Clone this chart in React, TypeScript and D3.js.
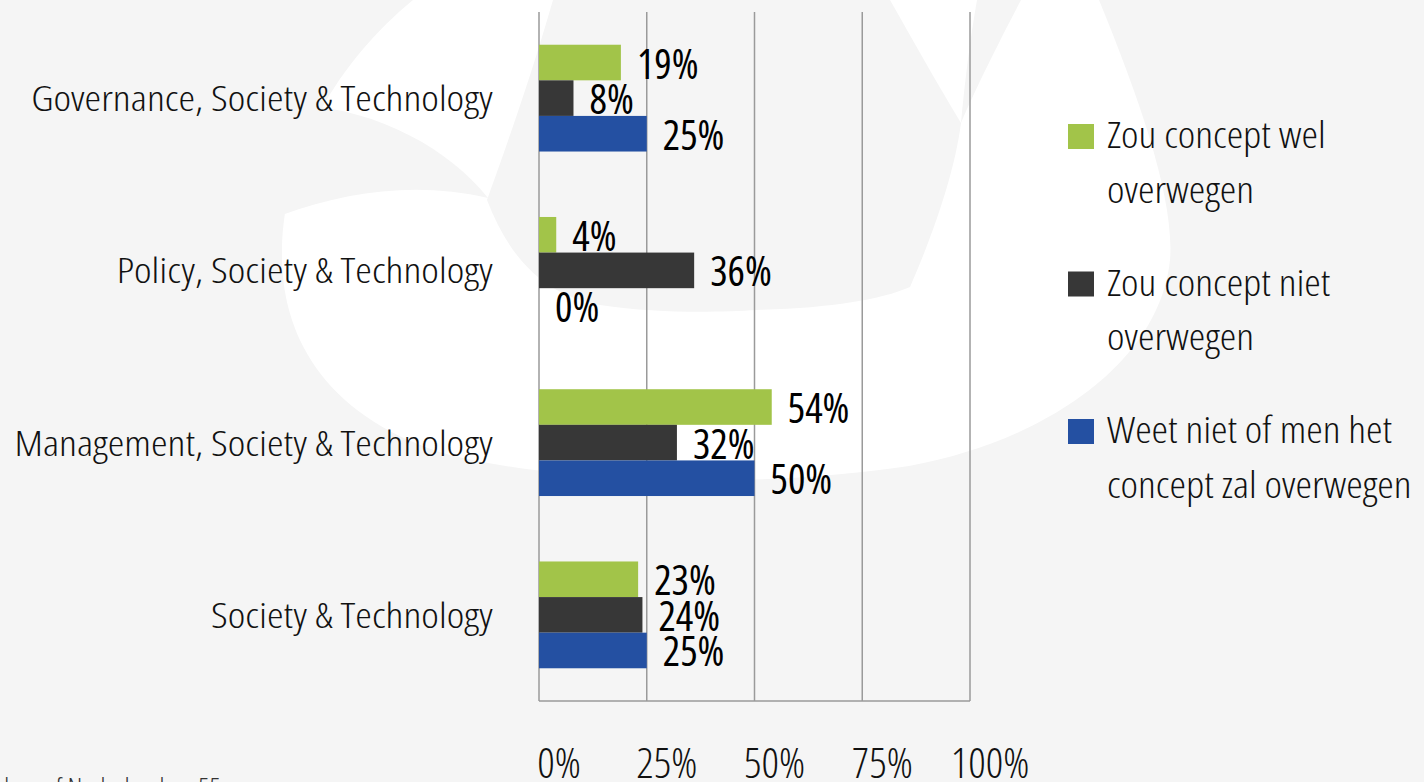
import React from 'react'
import * as d3 from 'd3'

// chart data
const categories = [
  'Governance, Society & Technology',
  'Policy, Society & Technology',
  'Management, Society & Technology',
  'Society & Technology',
]
const seriesNames = [
  'Zou concept wel overwegen',
  'Zou concept niet overwegen',
  'Weet niet of men het concept zal overwegen',
]
const welValues = [0.19, 0.04, 0.54, 0.23]
const nietValues = [0.08, 0.36, 0.32, 0.24]
const weetNietValues = [0.25, 0.0, 0.5, 0.25]
const xTicks = [0, 0.25, 0.5, 0.75, 1]
const legendLines = [
  ['Zou concept wel', 'overwegen'],
  ['Zou concept niet', 'overwegen'],
  ['Weet niet of men het', 'concept zal overwegen'],
]
const sourceNote = 'Bron: Kingdom of Nederland, p. 55'

const colors = ['#a2c449', '#373737', '#2450a2']
const W = 1424
const H = 782
const margin = { top: 12, right: 454, bottom: 81, left: 539 }
const font = '"Open Sans", sans-serif'
const condensed = { fontStretch: '75%' }

export default function App() {
  const x = d3.scaleLinear().domain([0, 1]).range([margin.left, W - margin.right])
  const y = d3.scaleBand<string>()
    .domain(categories)
    .range([margin.top, H - margin.bottom])
    .paddingInner(0.38)
    .paddingOuter(0.19)
  const inner = d3.scaleBand<string>().domain(seriesNames).range([0, y.bandwidth()])
  const allSeries = [welValues, nietValues, weetNietValues]
  const pct = d3.format('.0%')

  return (
    <div>
      <style>{`body{margin:0;background:#f5f5f5}`}</style>
      <svg width={W} height={H} style={{ display: 'block' }}>
        <rect width={W} height={H} fill="#f5f5f5" />
        {/* faint logo watermark */}
        <g fill="#ffffff">
          <path d="M413,0 L1099,0 C1140,100 1175,200 1170,260 C1160,360 1050,440 909,466 C750,490 560,482 450,455 C330,420 280,340 282,250 C284,150 340,60 413,0 Z" />
        </g>
        <g fill="#f5f5f5">
          <path d="M553,0 C530,80 505,150 487,200 C510,260 545,295 600,305 C660,314 720,312 757,310 C830,308 880,300 910,287 C935,230 955,170 961,123 C935,80 910,35 890,0 Z" />
          <path d="M300,105 C380,110 450,150 488,198 C420,182 350,190 282,215 Z" />
          <path d="M977,0 L1021,0 C1000,40 975,90 961,123 C965,80 970,40 977,0 Z" />
        </g>

        {/* grid */}
        <g stroke="#9a9a9a" strokeWidth={1.5}>
          {xTicks.map(t => (
            <line key={t} x1={x(t)} x2={x(t)} y1={margin.top} y2={H - margin.bottom} />
          ))}
          <line x1={x(0)} x2={x(1)} y1={H - margin.bottom} y2={H - margin.bottom} />
        </g>

        {/* bars */}
        {allSeries.map((vals, si) => (
          <g key={si} fill={colors[si]}>
            {categories.map((c, ci) => (
              <rect key={c} x={x(0)} y={(y(c) ?? 0) + (inner(seriesNames[si]) ?? 0)}
                width={x(vals[ci]) - x(0)} height={inner.bandwidth()} />
            ))}
          </g>
        ))}

        {/* value labels */}
        {allSeries.map((vals, si) => (
          <g key={si} fontFamily={font} fontSize={41} fill="#000" style={condensed}>
            {categories.map((c, ci) => (
              <text key={c} x={x(vals[ci]) + 16}
                y={(y(c) ?? 0) + (inner(seriesNames[si]) ?? 0) + inner.bandwidth() / 2 + 16}>
                {pct(vals[ci])}
              </text>
            ))}
          </g>
        ))}

        {/* category labels */}
        <g fontFamily={font} fontSize={35} fontWeight={300} fill="#111" textAnchor="end" style={condensed}>
          {categories.map(c => (
            <text key={c} transform={`translate(493,${(y(c) ?? 0) + y.bandwidth() / 2 + 13}) scale(1.2,1)`}>{c}</text>
          ))}
        </g>

        {/* x tick labels */}
        <g fontFamily={font} fontSize={43} fontWeight={300} fill="#111" textAnchor="middle" style={condensed}>
          {xTicks.map(t => (
            <text key={t} x={x(t) + 20} y={778}>{pct(t)}</text>
          ))}
        </g>

        {/* legend */}
        <g fontFamily={font} fontSize={36} fontWeight={300} fill="#111" style={condensed}>
          {legendLines.map((lines, i) => (
            <g key={i} transform={`translate(1068,${124 + i * 147.5})`}>
              <rect width={26} height={25} fill={colors[i]} />
              {lines.map((ln, j) => (
                <text key={j} transform={`translate(39,${24 + j * 54.5}) scale(1.16,1)`}>{ln}</text>
              ))}
            </g>
          ))}
        </g>

        {/* cropped source note */}
        <text x={221} y={798} textAnchor="end" fontFamily={font} fontSize={28} fontWeight={300}
          fill="#333" style={condensed}>{sourceNote}</text>
      </svg>
    </div>
  )
}
